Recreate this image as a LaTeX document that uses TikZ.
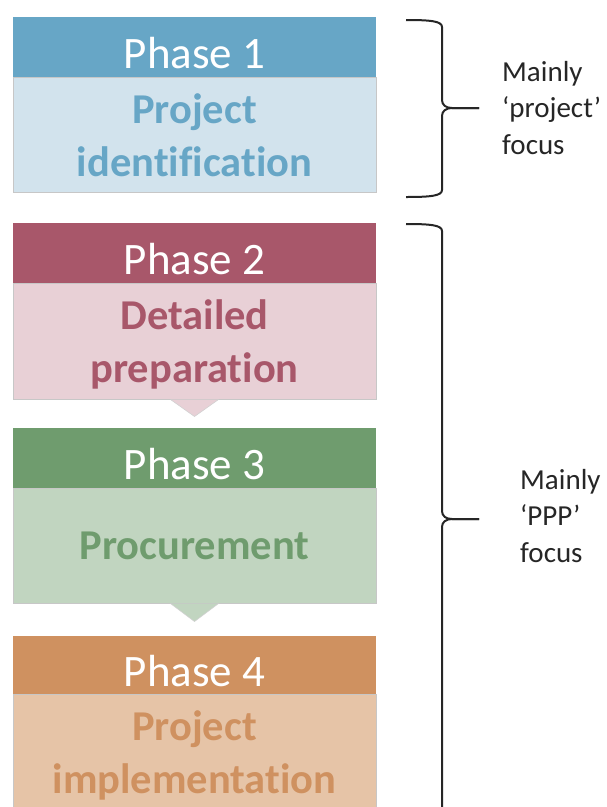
\documentclass[tikz,border=0pt]{standalone}
\usepackage{fontspec}
\setmainfont{Carlito}[Ligatures={NoCommon,NoRare,NoContextual,NoRequired}, Contextuals=NoAlternate]
\usetikzlibrary{positioning}
\definecolor{blueHd}{RGB}{103,166,198}
\definecolor{blueBd}{RGB}{210,227,237}
\definecolor{redHd}{RGB}{168,87,106}
\definecolor{redBd}{RGB}{232,208,214}
\definecolor{greenHd}{RGB}{111,156,110}
\definecolor{greenBd}{RGB}{193,213,192}
\definecolor{orangeHd}{RGB}{207,145,96}
\definecolor{orangeBd}{RGB}{230,196,167}
\tikzstyle{phase} = [rectangle, minimum width=363pt, minimum height=61pt, inner sep=0pt, outer sep=0pt, text=white, text height=43pt, text depth=0pt, font=\fontsize{45}{54}\selectfont]
\tikzstyle{stage} = [rectangle, minimum width=363pt, minimum height=115pt, inner sep=0pt, outer sep=0pt, draw=black!22, line width=0.8pt, align=center, font=\fontsize{42.5}{53}\selectfont\bfseries]
\tikzstyle{chevron} = [draw=black!18, line width=0.6pt]
\tikzstyle{brace} = [line width=2pt, draw=black!85]
\tikzstyle{focus} = [anchor=west, inner sep=0pt, align=left, text=black!85, font=\fontsize{29}{36.5}\selectfont]

\begin{document}
\begin{tikzpicture}[x=1pt, y=-1pt]

    \useasboundingbox (0,0) rectangle (606,807);
    \clip (0,0) rectangle (606,807);

    % Nodes
    \node (ph1) [phase, fill=blueHd] at (194.5,47) {Phase 1};
    \node (body1) [stage, fill=blueBd, text=blueHd, below=0pt of ph1] {Project\\ident\kern0pt if\kern0pt icat\kern0pt ion};
    \node (ph2) [phase, fill=redHd, below=30pt of body1] {Phase 2};
    \node (body2) [stage, fill=redBd, text=redHd, minimum height=116pt, below=0pt of ph2] {Detailed\\\smash{preparat\kern0pt ion}};
    \node (ph3) [phase, fill=greenHd, below=28pt of body2] {Phase 3};
    \node (body3) [stage, fill=greenBd, text=greenHd, below=0pt of ph3] {Procurement};
    \node (ph4) [phase, fill=orangeHd, minimum height=59pt, below=32pt of body3] {Phase 4};
    \node (body4) [stage, fill=orangeBd, text=orangeHd, below=0pt of ph4] {Project\\\smash{implementat\kern0pt ion}};

    % Chevrons
    \draw [chevron, fill=redBd] ([xshift=-24pt]body2.south) -- ++(24,17) -- ([xshift=24pt]body2.south);
    \draw [chevron, fill=greenBd] ([xshift=-24pt]body3.south) -- ++(24,18) -- ([xshift=24pt]body3.south);

    % Braces
    \coordinate (tip1) at (479,108);
    \coordinate (tip2) at (479,519);
    \draw [brace] (406,20) .. controls (430,20) and (442,21) .. (442,27) -- (442,100)
        .. controls (442,105) and (446,108) .. (452,108) -- (tip1);
    \draw [brace] (tip1) -- (452,108) .. controls (446,108) and (442,111) .. (442,116)
        -- (442,190) .. controls (442,196) and (430,197) .. (406,197);
    \draw [brace] (406,224) .. controls (430,224) and (442,225) .. (442,231) -- (442,511)
        .. controls (442,516) and (446,519) .. (452,519) -- (tip2);
    \draw [brace] (tip2) -- (452,519) .. controls (446,519) and (442,522) .. (442,527)
        -- (442,820);

    % Labels
    \node (focus1) [focus] at (502,108) {Mainly\\‘project’\\focus};
    \node (focus2) [focus] at (520,516) {Mainly\\‘PPP’\\focus};

\end{tikzpicture}
\end{document}
